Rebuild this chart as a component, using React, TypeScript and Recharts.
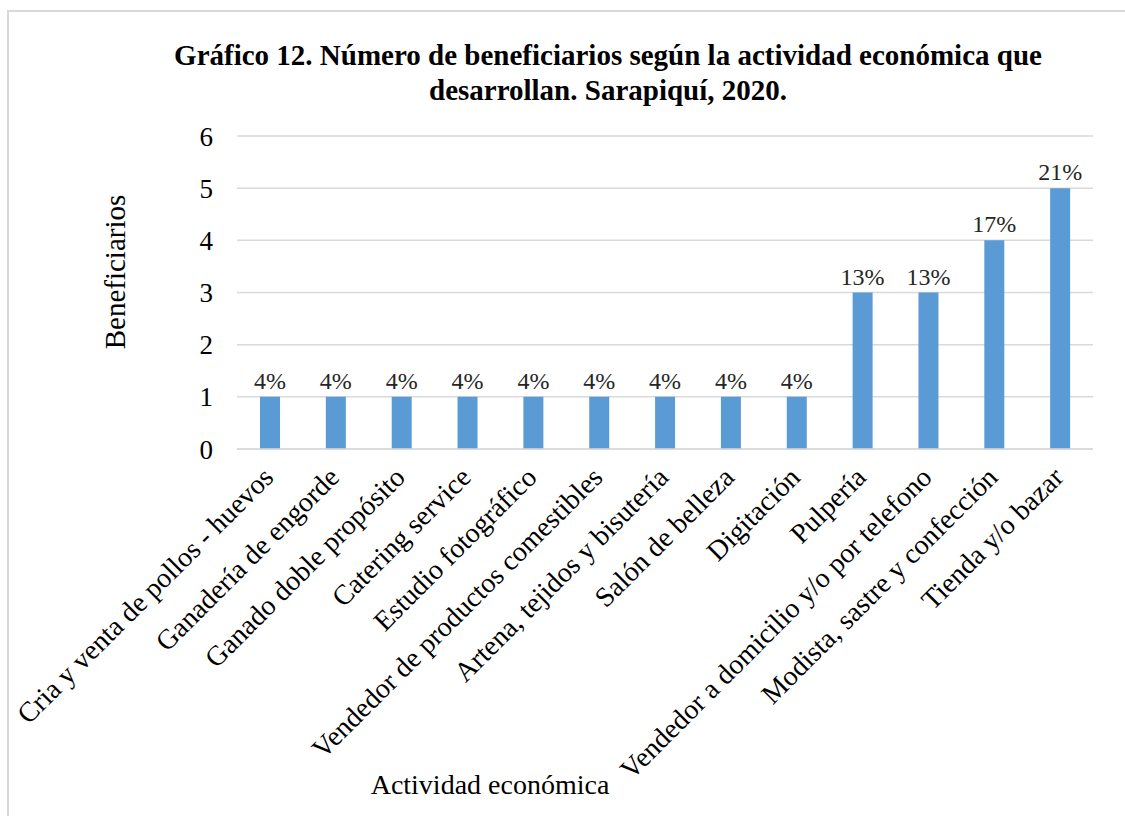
import { Bar, BarChart, CartesianGrid, LabelList, XAxis, YAxis } from "recharts";

const FONT = "'Liberation Serif', 'Times New Roman', serif";
const BAR_COLOR = "#5b9bd5";
const GRID = "#d9d9d9";

const activities = [
  "Cria y venta de pollos - huevos",
  "Ganadería de engorde",
  "Ganado doble propósito",
  "Catering service",
  "Estudio fotográfico",
  "Vendedor de productos comestibles",
  "Artena, tejidos y bisutería",
  "Salón de belleza",
  "Digitación",
  "Pulpería",
  "Vendedor a domicilio y/o por telefono",
  "Modista, sastre y confección",
  "Tienda y/o bazar",
];
const beneficiaries = [1, 1, 1, 1, 1, 1, 1, 1, 1, 3, 3, 4, 5];
const shares = ["4%", "4%", "4%", "4%", "4%", "4%", "4%", "4%", "4%", "13%", "13%", "17%", "21%"];
const yTicks = [0, 1, 2, 3, 4, 5, 6];

const data = activities.map((name, i) => ({
  name,
  value: beneficiaries[i],
  share: shares[i],
}));

function SlantedTick(props: any) {
  const { x, y, payload } = props;
  return (
    <g transform={`translate(${x + 5},${y + 28})`}>
      <text
        transform="rotate(-45)"
        textAnchor="end"
        fontFamily={FONT}
        fontSize={28}
        fill="#000"
      >
        {payload.value}
      </text>
    </g>
  );
}

export default function App() {
  return (
    <div
      style={{
        position: "absolute",
        left: 0,
        top: 0,
        width: 1125,
        height: 816,
        background: "#fff",
        overflow: "hidden",
        fontFamily: FONT,
      }}
    >
      <div
        style={{
          position: "absolute",
          left: 7,
          top: 10,
          width: 1200,
          height: 900,
          borderTop: `2px solid ${GRID}`,
          borderLeft: `2px solid ${GRID}`,
        }}
      />
      <div
        style={{
          position: "absolute",
          left: 108,
          top: 38,
          width: 1000,
          textAlign: "center",
          fontWeight: "bold",
          fontSize: 29,
          lineHeight: "35px",
          color: "#000",
        }}
      >
        Gráfico 12. Número de beneficiarios según la actividad económica que
        <br />
        desarrollan. Sarapiquí, 2020.
      </div>
      <div
        style={{
          position: "absolute",
          left: 115,
          top: 272,
          transform: "translate(-50%, -50%) rotate(-90deg)",
          fontSize: 29,
          whiteSpace: "nowrap",
          color: "#000",
        }}
      >
        Beneficiarios
      </div>
      <div
        style={{
          position: "absolute",
          left: 490,
          top: 785,
          transform: "translate(-50%, -50%)",
          fontSize: 28,
          whiteSpace: "nowrap",
          color: "#000",
        }}
      >
        Actividad económica
      </div>
      <div style={{ position: "absolute", left: 0, top: 0 }}>
        <BarChart
          width={1125}
          height={816}
          data={data}
          margin={{ top: 136, right: 32, left: 177, bottom: 67 }}
        >
          <CartesianGrid vertical={false} stroke={GRID} strokeWidth={1.5} />
          <XAxis
            dataKey="name"
            interval={0}
            height={300}
            tick={<SlantedTick />}
            tickLine={false}
            tickSize={0}
            axisLine={{ stroke: GRID, strokeWidth: 1.5 }}
          />
          <YAxis
            domain={[0, 6]}
            ticks={yTicks}
            width={60}
            axisLine={false}
            tickLine={false}
            tickMargin={18}
            tick={{ fontSize: 27, fill: "#000", fontFamily: FONT }}
          />
          <Bar dataKey="value" fill={BAR_COLOR} barSize={20} isAnimationActive={false}>
            <LabelList
              dataKey="share"
              position="top"
              offset={8}
              fill="#262626"
              fontSize={24}
              fontFamily={FONT}
            />
          </Bar>
        </BarChart>
      </div>
    </div>
  );
}
